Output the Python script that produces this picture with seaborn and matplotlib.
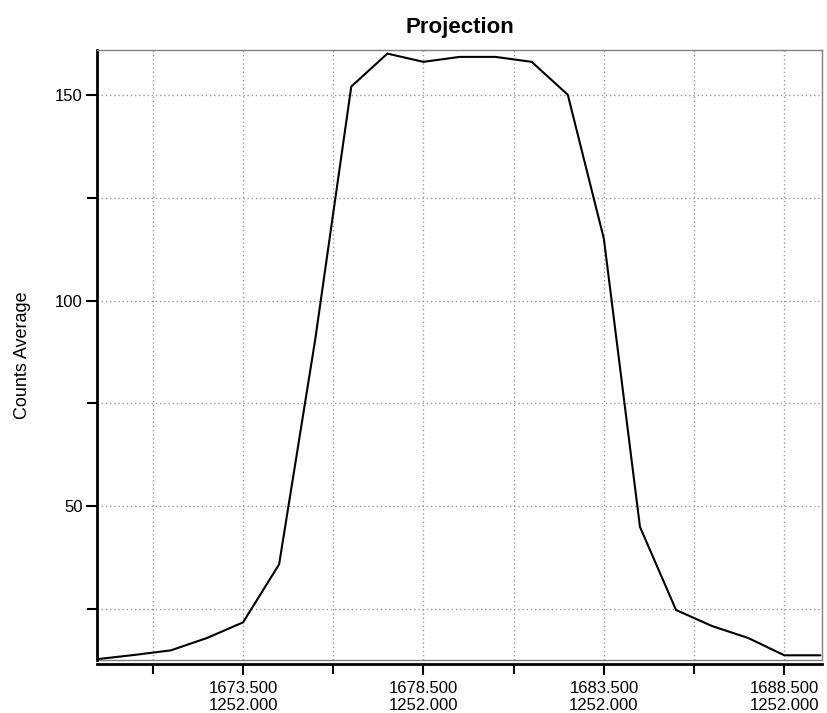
"""
Projection profile: counts average along the projection axis.
"""
import matplotlib
matplotlib.use('Agg')
import matplotlib.pyplot as plt
from matplotlib.ticker import FixedLocator, MultipleLocator
import pandas as pd
import seaborn as sns

# values
position = [1669.5, 1670.5, 1671.5, 1672.5, 1673.5, 1674.5, 1675.5,
            1676.5, 1677.5, 1678.5, 1679.5, 1680.5, 1681.5, 1682.5,
            1683.5, 1684.5, 1685.5, 1686.5, 1687.5, 1688.5, 1689.5]
counts = [12.9, 13.9, 15.0, 18.0, 21.8, 35.9, 90.5,
          152.0, 160.0, 158.0, 159.2, 159.2, 158.0, 150.0,
          115.0, 45.0, 24.8, 20.9, 18.0, 13.8, 13.8]
x_major = [1673.5, 1678.5, 1683.5, 1688.5]
x_minor = [1671.0, 1676.0, 1681.0, 1686.0]
second_row = '1252.000'


def main():
    """Draw the projection line chart and save it as out.png."""
    df = pd.DataFrame({'position': position, 'counts': counts})

    sns.set_style('ticks')
    plt.rcParams['font.family'] = ['Liberation Sans', 'DejaVu Sans']

    fig = plt.figure(figsize=(8.28, 7.13), dpi=100)
    ax = fig.add_axes([0.117, 0.074, 0.876, 0.856])

    sns.lineplot(data=df, x='position', y='counts', color='black',
                 linewidth=1.5, ax=ax)

    ax.set_xlim(1669.45, 1689.55)
    ax.set_ylim(12.6, 160.9)

    # ticks: labelled majors, unlabelled minors
    ax.xaxis.set_major_locator(FixedLocator(x_major))
    ax.xaxis.set_minor_locator(FixedLocator(x_minor))
    ax.set_xticklabels([f'{v:.3f}\n{second_row}' for v in x_major])
    ax.yaxis.set_major_locator(MultipleLocator(50))
    ax.yaxis.set_minor_locator(MultipleLocator(25))
    ax.tick_params(axis='both', which='both', bottom=True, left=True,
                   top=False, right=False)
    ax.tick_params(axis='both', which='major', direction='out', length=8,
                   width=1.5, color='black', labelsize=12, pad=2,
                   labelcolor='black')
    ax.tick_params(axis='x', which='major', pad=4)
    ax.tick_params(axis='both', which='minor', direction='out', length=7,
                   width=1.5, color='black')
    for lbl in ax.get_xticklabels():
        lbl.set_linespacing(0.62)

    ax.grid(True, which='both', color='#9a9a9a', linestyle=(0, (1, 2)),
            linewidth=1.0)

    for side in ['top', 'right']:
        ax.spines[side].set_visible(True)
        ax.spines[side].set_color('#808080')
        ax.spines[side].set_linewidth(1.0)
    ax.spines['left'].set_color('black')
    ax.spines['left'].set_linewidth(2.0)
    ax.spines['bottom'].set_color('black')
    ax.spines['bottom'].set_linewidth(2.0)
    ax.spines['bottom'].set_position(('outward', 3))
    ax.axhline(12.6, color='#808080', linewidth=1.0, clip_on=False)

    ax.set_xlabel('')
    ax.set_ylabel('Counts Average', fontsize=13, color='black')
    ax.yaxis.set_label_coords(-0.091, 0.5)
    ax.set_title('Projection', fontsize=16, fontweight='bold', pad=12,
                 color='black',
                 family=['Liberation Sans Narrow', 'Liberation Sans',
                         'DejaVu Sans'])

    fig.savefig('out.png', dpi=100)
    return


if __name__ == '__main__':
    main()
